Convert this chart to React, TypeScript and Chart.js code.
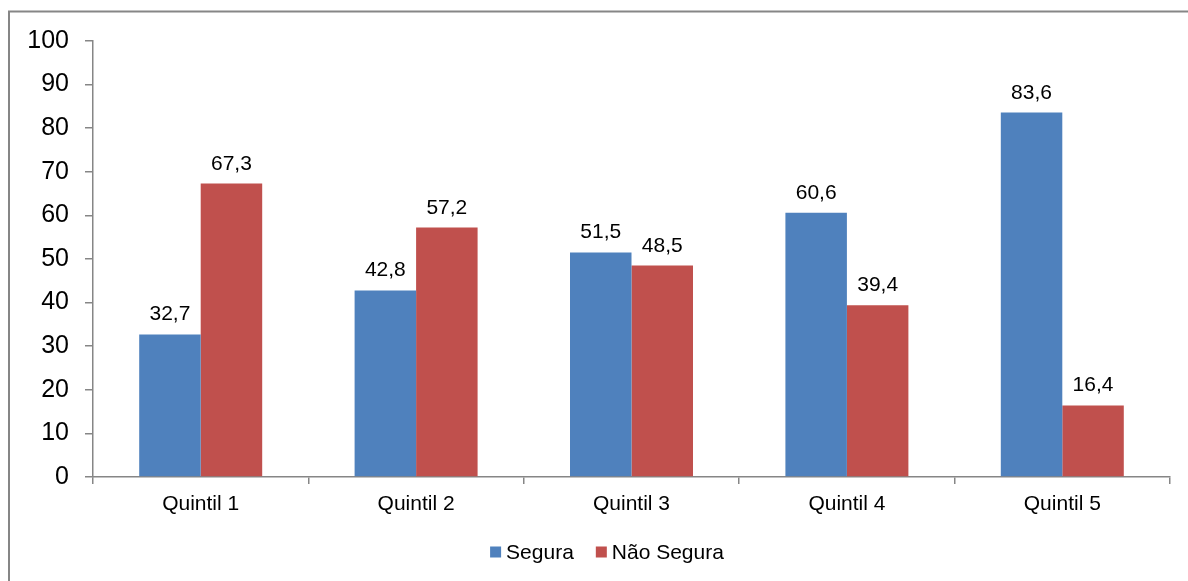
import React, { useEffect, useRef } from "react";
import { Chart, registerables } from "chart.js";

Chart.register(...registerables);

const categories = ["Quintil 1", "Quintil 2", "Quintil 3", "Quintil 4", "Quintil 5"];
const seguraValues = [32.7, 42.8, 51.5, 60.6, 83.6];
const naoSeguraValues = [67.3, 57.2, 48.5, 39.4, 16.4];
const seriesNames = ["Segura", "Não Segura"];
const seriesColors = ["#4F81BD", "#C0504D"];

const FONT = "'Liberation Sans', Arial, sans-serif";
const AXIS_COLOR = "#868686";

const fmt = (v: number) => v.toFixed(1).replace(".", ",");

const framePlugin = {
  id: "frame",
  beforeDraw(chart: any) {
    const ctx = chart.ctx;
    ctx.save();
    ctx.fillStyle = "#ffffff";
    ctx.fillRect(0, 0, chart.width, chart.height);
    ctx.strokeStyle = AXIS_COLOR;
    ctx.lineWidth = 2;
    ctx.strokeRect(9, 11.5, chart.width + 50, chart.height + 50);
    ctx.restore();
  },
};

const labelsPlugin = {
  id: "valueLabels",
  afterDatasetsDraw(chart: any) {
    const ctx = chart.ctx;
    ctx.save();
    ctx.font = `21px ${FONT}`;
    ctx.fillStyle = "#000000";
    ctx.textAlign = "center";
    ctx.textBaseline = "alphabetic";
    chart.data.datasets.forEach((ds: any, i: number) => {
      const meta = chart.getDatasetMeta(i);
      meta.data.forEach((bar: any, j: number) => {
        ctx.fillText(fmt(ds.data[j]), bar.x, bar.y - 14);
      });
    });
    ctx.restore();
  },
};

const legendPlugin = {
  id: "customLegend",
  afterDraw(chart: any) {
    const ctx = chart.ctx;
    ctx.save();
    ctx.font = `21px ${FONT}`;
    ctx.textBaseline = "middle";
    ctx.textAlign = "left";
    const box = 11;
    const gapBoxText = 5;
    const gapItems = 22;
    const items = chart.data.datasets.map((ds: any) => ({
      label: ds.label,
      color: ds.backgroundColor,
      w: box + gapBoxText + ctx.measureText(ds.label).width,
    }));
    const total = items.reduce((s: number, it: any) => s + it.w, 0) + gapItems * (items.length - 1);
    let x = (chart.width - total) / 2 + 13;
    const cy = 552;
    items.forEach((it: any) => {
      ctx.fillStyle = it.color;
      ctx.fillRect(x, cy - box / 2, box, box);
      ctx.fillStyle = "#000000";
      ctx.fillText(it.label, x + box + gapBoxText, cy + 1);
      x += it.w + gapItems;
    });
    ctx.restore();
  },
};

export default function App() {
  const canvasRef = useRef<HTMLCanvasElement | null>(null);

  useEffect(() => {
    document.body.style.margin = "0";
    const canvas = canvasRef.current;
    if (!canvas) return;
    const chart = new Chart(canvas, {
      type: "bar",
      data: {
        labels: categories,
        datasets: [
          { label: seriesNames[0], data: seguraValues, backgroundColor: seriesColors[0] },
          { label: seriesNames[1], data: naoSeguraValues, backgroundColor: seriesColors[1] },
        ],
      },
      options: {
        animation: false,
        responsive: false,
        maintainAspectRatio: false,
        layout: { padding: { left: 0, right: 18, top: 41, bottom: 64 } },
        plugins: {
          legend: { display: false },
          tooltip: { enabled: false },
        },
        datasets: {
          bar: { categoryPercentage: 0.571, barPercentage: 1 },
        },
        scales: {
          x: {
            grid: {
              drawOnChartArea: false,
              drawTicks: true,
              tickLength: 7,
              color: AXIS_COLOR,
              lineWidth: 1.5,
              offset: true,
            },
            border: { display: true, color: AXIS_COLOR, width: 1.5 },
            ticks: { color: "#000000", font: { family: FONT, size: 21 }, padding: 8, maxRotation: 0 },
            afterFit: (scale: any) => {
              scale.height = 40;
            },
          },
          y: {
            min: 0,
            max: 100,
            ticks: { stepSize: 10, color: "#000000", font: { family: FONT, size: 25 }, padding: 16 },
            grid: {
              drawOnChartArea: false,
              drawTicks: true,
              tickLength: 8,
              color: AXIS_COLOR,
              lineWidth: 1.5,
            },
            border: { display: true, color: AXIS_COLOR, width: 1.5 },
            afterFit: (scale: any) => {
              scale.width = 93;
            },
          },
        },
      },
      plugins: [framePlugin, labelsPlugin, legendPlugin],
    });
    return () => chart.destroy();
  }, []);

  return (
    <canvas
      ref={canvasRef}
      width={1188}
      height={581}
      style={{ display: "block", width: "1188px", height: "581px" }}
    />
  );
}
